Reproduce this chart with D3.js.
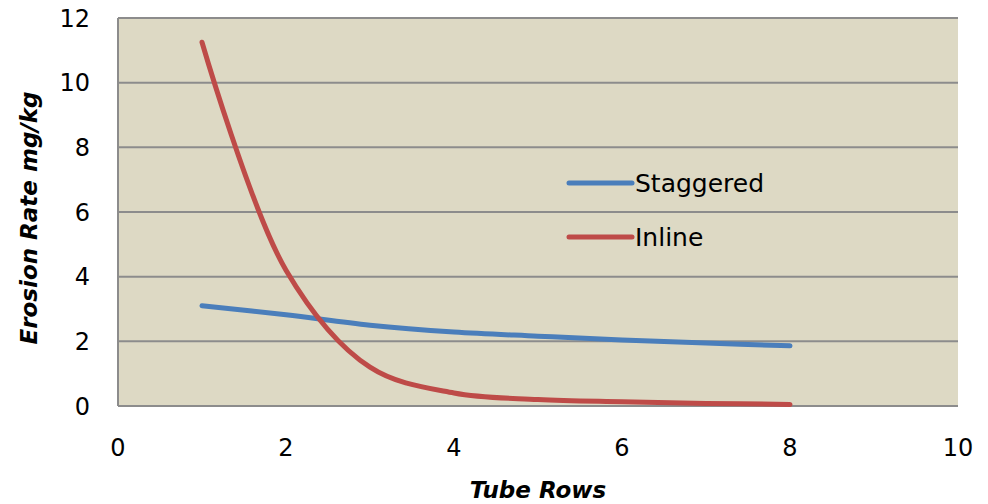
<!DOCTYPE html>
<html>
<head lang="en">
    <meta charset="UTF-8">
    <title>Erosion Rate</title>
    <script src="https://d3js.org/d3.v7.min.js"></script>
    <style>
        body { margin: 0; background: #fff; }
        text { font-family: "DejaVu Sans", sans-serif; fill: #000; }
    </style>
</head>
<body>
<svg id="chart" width="988" height="504"></svg>
<script>
    // data
    const ROWS = [1, 2, 3, 4, 5, 6, 7, 8];
    const STAGGERED = [3.1, 2.82, 2.5, 2.29, 2.16, 2.04, 1.95, 1.86];
    const INLINE = [11.25, 4.2, 1.2, 0.4, 0.2, 0.13, 0.08, 0.05];
    const X_TICKS = [0, 2, 4, 6, 8, 10];
    const Y_TICKS = [0, 2, 4, 6, 8, 10, 12];
    const SERIES = [
        {name: 'Staggered', values: STAGGERED, color: '#4a7ebb'},
        {name: 'Inline', values: INLINE, color: '#be4b48'}
    ];

    let svg = d3.select('#chart');
    const margins = {top: 18, right: 30, bottom: 98, left: 118};
    let width = 958 - margins.left,
        height = 406 - margins.top;

    let xscale = d3.scaleLinear().domain([0, 10]).range([0, width]),
        yscale = d3.scaleLinear().domain([0, 12]).range([height, 0]);

    let g = svg.append('g').attr('transform', `translate(${margins.left},${margins.top})`);

    // plot background
    g.append('rect')
        .attr('width', width).attr('height', height)
        .attr('fill', '#ddd9c4');

    // gridlines
    g.append('g').selectAll('line')
        .data(Y_TICKS.filter(d => d > 0))
        .enter().append('line')
        .attr('x1', 0).attr('x2', width)
        .attr('y1', d => yscale(d)).attr('y2', d => yscale(d))
        .attr('stroke', '#8c8c8c').attr('stroke-width', 2);

    // axis lines
    g.append('line').attr('x1', 0).attr('x2', 0).attr('y1', 0).attr('y2', height)
        .attr('stroke', '#8c8c8c').attr('stroke-width', 2);
    g.append('line').attr('x1', 0).attr('x2', width).attr('y1', height).attr('y2', height)
        .attr('stroke', '#8c8c8c').attr('stroke-width', 2);

    // tick labels
    g.append('g').selectAll('text')
        .data(Y_TICKS).enter().append('text')
        .attr('x', -28).attr('y', d => yscale(d))
        .attr('dy', '0.36em').attr('text-anchor', 'end')
        .style('font-size', '24px')
        .text(d => d);

    g.append('g').selectAll('text')
        .data(X_TICKS).enter().append('text')
        .attr('x', d => xscale(d)).attr('y', height + 41)
        .attr('dy', '0.36em').attr('text-anchor', 'middle')
        .style('font-size', '24px')
        .text(d => d);

    // series
    let line = d3.line()
        .x((d, i) => xscale(ROWS[i]))
        .y(d => yscale(d))
        .curve(d3.curveCatmullRom.alpha(0.5));

    g.selectAll('.series')
        .data(SERIES).enter().append('path')
        .attr('class', 'series')
        .attr('d', d => line(d.values))
        .attr('fill', 'none')
        .attr('stroke', d => d.color)
        .attr('stroke-width', 5)
        .attr('stroke-linecap', 'round');

    // legend
    let legend = svg.append('g').selectAll('g')
        .data(SERIES).enter().append('g')
        .attr('transform', (d, i) => `translate(569,${183 + i * 54})`);
    legend.append('line')
        .attr('x1', 0).attr('x2', 63)
        .attr('stroke', d => d.color).attr('stroke-width', 5)
        .attr('stroke-linecap', 'round');
    legend.append('text')
        .attr('x', 66).attr('dy', '0.36em')
        .style('font-size', '25px')
        .text(d => d.name);

    // axis titles
    svg.append('text')
        .attr('x', 538).attr('y', 490).attr('dy', '0.36em')
        .attr('text-anchor', 'middle')
        .style('font-size', '23px').style('font-weight', 'bold').style('font-style', 'italic')
        .text('Tube Rows');
    svg.append('text')
        .attr('transform', 'translate(29,218) rotate(-90)')
        .attr('dy', '0.36em')
        .attr('text-anchor', 'middle')
        .style('font-size', '23px').style('font-weight', 'bold').style('font-style', 'italic')
        .text('Erosion Rate mg/kg');
</script>
</body>
</html>
